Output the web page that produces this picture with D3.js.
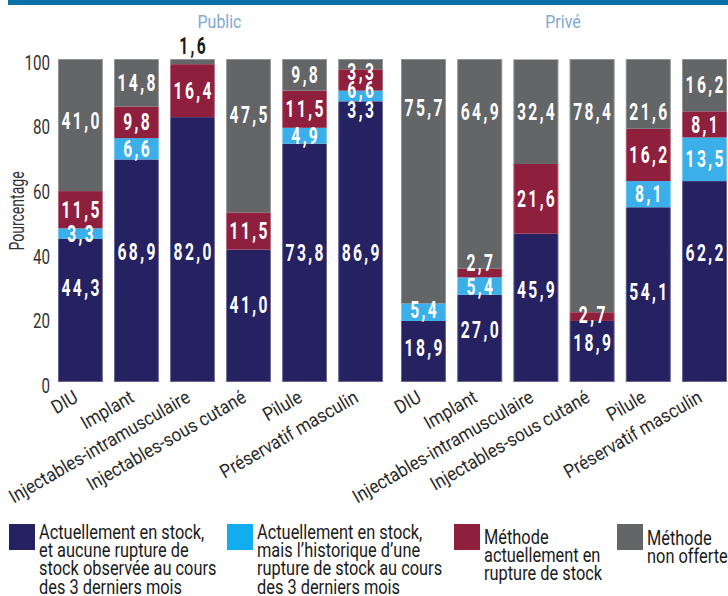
<!DOCTYPE html>
<html><head><meta charset="utf-8">
<script src="https://cdn.jsdelivr.net/npm/d3@7"></script>
<style>
html,body{margin:0;padding:0;background:#fff;}
svg{display:block;font-family:Roboto,"Liberation Sans",sans-serif;}
</style></head>
<body><svg id="c" width="728" height="596"></svg>
<script>
// ---------- data ----------
const categories = ["DIU","Implant","Injectables-intramusculaire","Injectables-sous cutané","Pilule","Préservatif masculin"];
const panelNames = ["Public","Privé"];
const seriesKeys = ["stock","history","rupture","nonOffered"];
const publicStock      = [44.3, 68.9, 82.0, 41.0, 73.8, 86.9];
const publicHistory    = [3.3, 6.6, 0, 0, 4.9, 3.3];
const publicRupture    = [11.5, 9.8, 16.4, 11.5, 11.5, 6.6];
const publicNonOffered = [41.0, 14.8, 1.6, 47.5, 9.8, 3.3];
const priveStock       = [18.9, 27.0, 45.9, 18.9, 54.1, 62.2];
const priveHistory     = [5.4, 5.4, 0, 0, 8.1, 13.5];
const priveRupture     = [0, 2.7, 21.6, 2.7, 16.2, 8.1];
const priveNonOffered  = [75.7, 64.9, 32.4, 78.4, 21.6, 16.2];
const yTicks = [0, 20, 40, 60, 80, 100];
const legendLines = [
  ["Actuellement en stock,","et aucune rupture de","stock observée au cours","des 3 derniers mois"],
  ["Actuellement en stock,","mais l’historique d’une","rupture de stock au cours","des 3 derniers mois"],
  ["Méthode","actuellement en","rupture de stock"],
  ["Méthode","non offerte"]
];
// label anchor (in %) per category: [stock, history, rupture, nonOffered]; null = segment middle
const publicLabelAt = [[29.1,46,null,80.8],[40.2,null,null,null],[40.2,null,null,104],[23.8,null,null,82.7],[40,null,null,null],[40,84.2,90.4,96]];
const priveLabelAt  = [[10.5,22.3,null,84.8],[16.1,29.6,36.9,83.6],[28.5,null,null,83.6],[12,null,20.7,83.6],[27.9,null,null,83.6],[40,null,null,null]];

// ---------- styles ----------
const colors = ["#262262","#3aafe9","#8e1f3d","#646567"];
const legendColors = ["#262262","#12adee","#8e1f3d","#646567"];

const svg = d3.select("#c");
svg.append("rect").attr("x",8).attr("y",0).attr("width",720).attr("height",5).attr("fill","#0a72a8");

const y = d3.scaleLinear().domain([0,100]).range([382,59]);

const panels = [
  {name:panelNames[0], range:[58,383], series:[publicStock,publicHistory,publicRupture,publicNonOffered], labelAt:publicLabelAt},
  {name:panelNames[1], range:[401,727], series:[priveStock,priveHistory,priveRupture,priveNonOffered], labelAt:priveLabelAt}
];

const fmt = v => d3.format(".1f")(v).replace(".", ",");

// y axis
const yAxis = svg.append("g").attr("transform","translate(50,0)")
  .call(d3.axisLeft(y).tickValues(yTicks).tickSize(0).tickPadding(0).tickFormat(d3.format("d")));
yAxis.select(".domain").remove();
yAxis.selectAll("text").attr("x",0).attr("dy","0.5em")
  .attr("font-family","Roboto").attr("font-size",20.5).attr("fill","#333")
  .attr("transform","scale(0.74,1)");

svg.append("text").attr("transform","translate(24,211) rotate(-90) scale(0.72,1)")
  .attr("text-anchor","middle").attr("font-size",19.5).attr("fill","#333").text("Pourcentage");

panels.forEach(p => {
  const x = d3.scaleBand().domain(categories).range(p.range).paddingInner(0.2).paddingOuter(0);
  const rows = categories.map((c,i) => {
    const o = {cat:c, idx:i};
    seriesKeys.forEach((k,j) => o[k] = p.series[j][i]);
    return o;
  });
  const stacked = d3.stack().keys(seriesKeys)(rows);
  const g = svg.append("g");

  stacked.forEach((layer, j) => {
    g.selectAll(null).data(layer).join("rect")
      .attr("x", d => x(d.data.cat))
      .attr("width", x.bandwidth())
      .attr("y", d => y(Math.min(d[1],100)))
      .attr("height", d => Math.max(0, y(d[0]) - y(Math.min(d[1],100))))
      .attr("fill", colors[j]);
  });
  // light bar outline
  g.selectAll(null).data(rows).join("rect")
    .attr("x", d => x(d.cat)+0.5).attr("width", x.bandwidth()-1)
    .attr("y", y(100)+0.5).attr("height", y(0)-y(100)-1)
    .attr("fill","none").attr("stroke","#fff").attr("stroke-opacity",0.3).attr("stroke-width",1);

  // value labels
  const fs = 23, ls = 3.5, sx = 0.68;
  stacked.forEach((layer, j) => {
    layer.forEach((d, i) => {
      const v = p.series[j][i];
      if (!v) return;
      const at = p.labelAt[i][j];
      const pos = at == null ? (d[0]+d[1])/2 : at;
      const outside = pos > 100;
      g.append("text")
        .attr("transform", `translate(${x(d.data.cat)+x.bandwidth()/2 + ls*sx/2},${y(pos)+fs*0.355}) scale(${sx},1)`)
        .attr("text-anchor","middle")
        .attr("font-size",fs).attr("font-weight",700)
        .attr("letter-spacing",ls)
        .attr("fill", outside ? "#1a1a1a" : "#fff")
        .text(fmt(v));
    });
  });

  // category axis
  const xAxis = svg.append("g").attr("transform","translate(0,382)")
    .call(d3.axisBottom(x).tickSize(0).tickPadding(0));
  xAxis.select(".domain").remove();
  xAxis.selectAll("text").attr("y",0).attr("dy",0)
    .attr("text-anchor","end")
    .attr("font-family","Roboto").attr("font-size",19).attr("fill","#2a2a2a")
    .attr("transform","translate(-1,19) rotate(-30) scale(0.9,1)");

  // panel title
  svg.append("text")
    .attr("transform",`translate(${(p.range[0]+p.range[1])/2 - 1},28) scale(0.84,1)`)
    .attr("text-anchor","middle").attr("font-size",19).attr("fill","#7fa8d2")
    .text(p.name);
});

// legend
const legX = [9, 227, 454, 617];
const legBase = [539, 539, 544, 545];
const lg = svg.append("g");
legendLines.forEach((lines, i) => {
  lg.append("rect").attr("x",legX[i]).attr("y",524).attr("width",26).attr("height",26).attr("fill",legendColors[i]);
  const t = lg.append("text").attr("transform",`translate(${legX[i]+30},${legBase[i]}) scale(0.84,1)`)
    .attr("font-size",19.5).attr("fill","#1a1a1a");
  lines.forEach((l, k) => t.append("tspan").attr("x",0).attr("y",k*18.2).text(l));
});
</script>
</body></html>
